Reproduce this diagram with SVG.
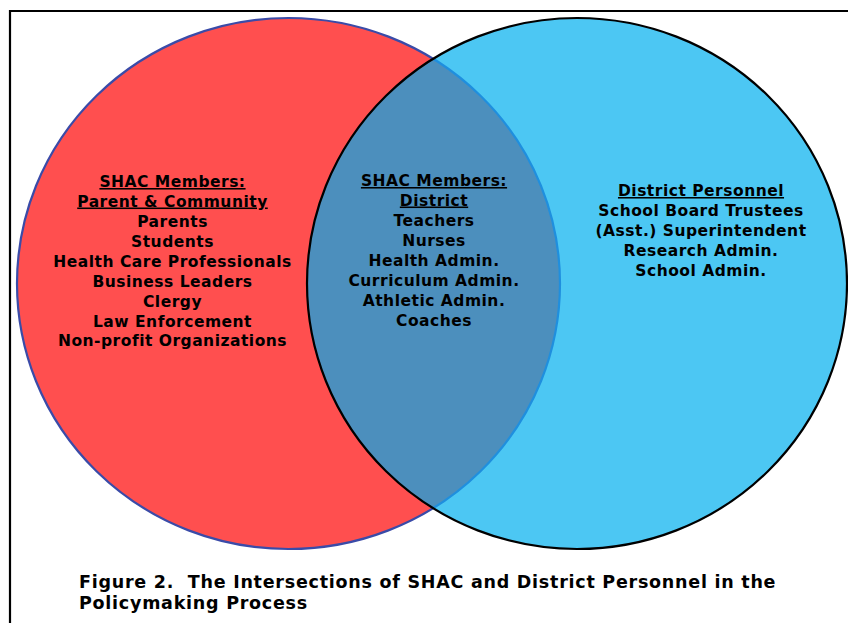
<svg xmlns="http://www.w3.org/2000/svg" width="848" height="623" viewBox="0 0 848 623">
  <style>
    .lbl { font-family: "DejaVu Sans", Verdana, sans-serif; font-weight: bold; font-size: 15.5px; letter-spacing: 0.5px; fill: #000; text-anchor: middle; }
    .head { text-decoration: underline; }
    .cap { font-family: "DejaVu Sans", Verdana, sans-serif; font-weight: bold; font-size: 17.5px; letter-spacing: 0.75px; fill: #000; }
  </style>
  <defs>
    <clipPath id="clipBlue">
      <ellipse cx="577" cy="283.5" rx="270" ry="265.5"/>
    </clipPath>
    <clipPath id="clipRed">
      <ellipse cx="288.5" cy="283.5" rx="271.5" ry="265.5"/>
    </clipPath>
  </defs>
  <rect width="848" height="623" fill="#ffffff"/>

  <!-- frame -->
  <path d="M10 623 V11 H848" fill="none" stroke="#000" stroke-width="2.2"/>

  <!-- left set: parent and community members -->
  <g id="set-community">
    <ellipse cx="288.5" cy="283.5" rx="271.5" ry="265.5" fill="#FF4F4F" stroke="#3A4BA8" stroke-width="2.2"/>
  </g>

  <!-- right set: district personnel -->
  <g id="set-district">
    <ellipse cx="577" cy="283.5" rx="270" ry="265.5" fill="#4CC7F3"/>
  </g>

  <!-- intersection of both sets -->
  <g id="set-overlap">
    <ellipse cx="577" cy="283.5" rx="270" ry="265.5" fill="#4C8FBD" clip-path="url(#clipRed)"/>
    <ellipse cx="288.5" cy="283.5" rx="271.5" ry="265.5" fill="none" stroke="#1F8FDE" stroke-width="2.2" clip-path="url(#clipBlue)"/>
    <ellipse cx="577" cy="283.5" rx="270" ry="265.5" fill="none" stroke="#000" stroke-width="2.2"/>
  </g>

  <g id="text-community">
    <text class="lbl head" x="172.5" y="187">SHAC Members:</text>
    <text class="lbl head" x="172.5" y="206.5">Parent &amp; Community</text>
    <text class="lbl" x="172.5" y="226.5">Parents</text>
    <text class="lbl" x="172.5" y="246.5">Students</text>
    <text class="lbl" x="172.5" y="266.5">Health Care Professionals</text>
    <text class="lbl" x="172.5" y="286.5">Business Leaders</text>
    <text class="lbl" x="172.5" y="306.5">Clergy</text>
    <text class="lbl" x="172.5" y="326.5">Law Enforcement</text>
    <text class="lbl" x="172.5" y="346">Non-profit Organizations</text>
  </g>

  <g id="text-overlap">
    <text class="lbl head" x="434" y="186">SHAC Members:</text>
    <text class="lbl head" x="434" y="205.5">District</text>
    <text class="lbl" x="434" y="225.5">Teachers</text>
    <text class="lbl" x="434" y="245.5">Nurses</text>
    <text class="lbl" x="434" y="265.5">Health Admin.</text>
    <text class="lbl" x="434" y="285.5">Curriculum Admin.</text>
    <text class="lbl" x="434" y="305.5">Athletic Admin.</text>
    <text class="lbl" x="434" y="325.5">Coaches</text>
  </g>

  <g id="text-district">
    <text class="lbl head" x="701" y="196">District Personnel</text>
    <text class="lbl" x="701" y="216">School Board Trustees</text>
    <text class="lbl" x="701" y="236">(Asst.) Superintendent</text>
    <text class="lbl" x="701" y="256">Research Admin.</text>
    <text class="lbl" x="701" y="276">School Admin.</text>
  </g>

  <g id="caption">
    <text class="cap" x="79" y="588" xml:space="preserve">Figure 2.  The Intersections of SHAC and District Personnel in the</text>
    <text class="cap" x="79" y="609">Policymaking Process</text>
  </g>
</svg>
